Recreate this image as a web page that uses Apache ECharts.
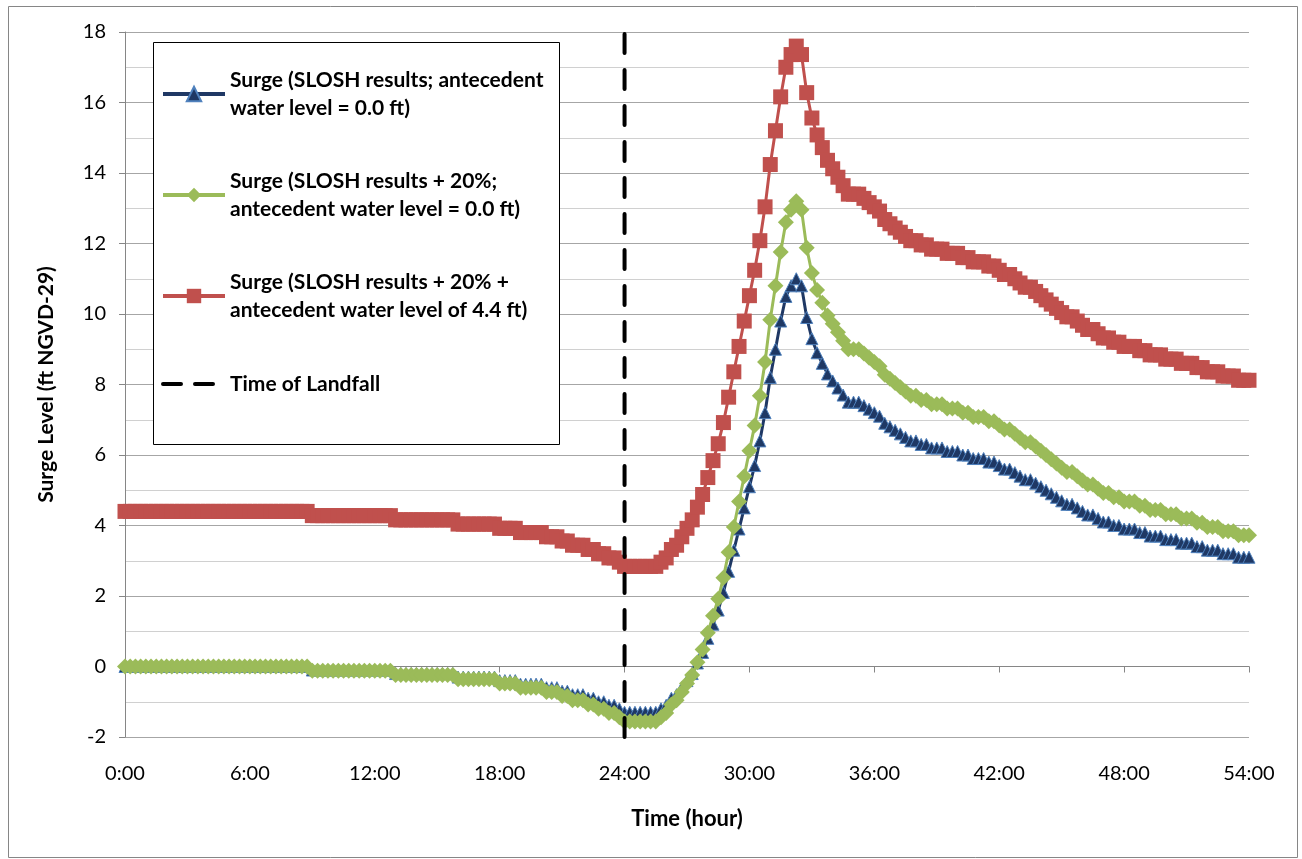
<!DOCTYPE html>
<html>
<head>
<meta charset="utf-8">
<title>Surge Level</title>
<script src="https://cdn.jsdelivr.net/npm/echarts@6/dist/echarts.min.js"></script>
<style>
  html, body { margin: 0; padding: 0; background: #fff; }
  #surgeChart { width: 1302px; height: 859px; }
</style>
</head>
<body>
<div id="surgeChart"></div>
<script>
// readings every 15 minutes, 0:00 to 54:00 (one row = 6 hours)
const stepHours = 0.25
const xTicks = [0, 6, 12, 18, 24, 30, 36, 42, 48, 54]
const yTicks = [-2, 0, 2, 4, 6, 8, 10, 12, 14, 16, 18]
const landfallHour = 24

const seriesNames = [
  'Surge (SLOSH results; antecedent\nwater level = 0.0 ft)',
  'Surge (SLOSH results + 20%;\nantecedent water level = 0.0 ft)',
  'Surge (SLOSH results + 20% +\nantecedent water level of 4.4 ft)',
  'Time of Landfall'
]

// SLOSH results
const sloshSurge = [
  0, 0, 0, 0, 0, 0, 0, 0, 0, 0, 0, 0, 0, 0, 0, 0, 0, 0, 0, 0, 0, 0, 0, 0,
  0, 0, 0, 0, 0, 0, 0, 0, 0, 0, 0, 0, -0.1, -0.1, -0.1, -0.1, -0.1, -0.1, -0.1, -0.1, -0.1, -0.1, -0.1, -0.1,
  -0.1, -0.1, -0.1, -0.1, -0.2, -0.2, -0.2, -0.2, -0.2, -0.2, -0.2, -0.2, -0.2, -0.2, -0.2, -0.2, -0.3, -0.3, -0.3, -0.3, -0.3, -0.3, -0.3, -0.3,
  -0.4, -0.4, -0.4, -0.4, -0.5, -0.5, -0.5, -0.5, -0.5, -0.6, -0.6, -0.6, -0.7, -0.7, -0.8, -0.8, -0.8, -0.9, -0.9, -1.0, -1.0, -1.1, -1.1, -1.2,
  -1.3, -1.3, -1.3, -1.3, -1.3, -1.3, -1.3, -1.2, -1.1, -0.9, -0.8, -0.6, -0.4, -0.2, 0.1, 0.4, 0.8, 1.2, 1.6, 2.1, 2.7, 3.3, 3.9, 4.5,
  5.1, 5.7, 6.4, 7.2, 8.2, 9.0, 9.8, 10.5, 10.8, 11.0, 10.8, 9.9, 9.3, 8.9, 8.6, 8.3, 8.1, 7.9, 7.7, 7.5, 7.5, 7.5, 7.4, 7.3,
  7.2, 7.1, 6.9, 6.8, 6.7, 6.6, 6.5, 6.4, 6.4, 6.3, 6.3, 6.2, 6.2, 6.2, 6.1, 6.1, 6.1, 6.0, 6.0, 5.9, 5.9, 5.9, 5.8, 5.8,
  5.7, 5.6, 5.6, 5.5, 5.4, 5.3, 5.3, 5.2, 5.1, 5.0, 4.9, 4.8, 4.7, 4.6, 4.6, 4.5, 4.4, 4.3, 4.3, 4.2, 4.1, 4.1, 4.0, 4.0,
  3.9, 3.9, 3.9, 3.8, 3.8, 3.7, 3.7, 3.7, 3.6, 3.6, 3.6, 3.5, 3.5, 3.5, 3.4, 3.4, 3.3, 3.3, 3.3, 3.2, 3.2, 3.2, 3.1, 3.1,
  3.1
]

// SLOSH results + 20%
const plus20Surge = [
  0, 0, 0, 0, 0, 0, 0, 0, 0, 0, 0, 0, 0, 0, 0, 0, 0, 0, 0, 0, 0, 0, 0, 0,
  0, 0, 0, 0, 0, 0, 0, 0, 0, 0, 0, 0, -0.12, -0.12, -0.12, -0.12, -0.12, -0.12, -0.12, -0.12, -0.12, -0.12, -0.12, -0.12,
  -0.12, -0.12, -0.12, -0.12, -0.24, -0.24, -0.24, -0.24, -0.24, -0.24, -0.24, -0.24, -0.24, -0.24, -0.24, -0.24, -0.36, -0.36, -0.36, -0.36, -0.36, -0.36, -0.36, -0.36,
  -0.48, -0.48, -0.48, -0.48, -0.6, -0.6, -0.6, -0.6, -0.6, -0.72, -0.72, -0.72, -0.84, -0.84, -0.96, -0.96, -0.96, -1.08, -1.08, -1.2, -1.2, -1.32, -1.32, -1.44,
  -1.56, -1.56, -1.56, -1.56, -1.56, -1.56, -1.56, -1.44, -1.32, -1.08, -0.96, -0.72, -0.48, -0.24, 0.12, 0.48, 0.96, 1.44, 1.92, 2.52, 3.24, 3.96, 4.68, 5.4,
  6.12, 6.84, 7.68, 8.64, 9.84, 10.8, 11.76, 12.6, 12.96, 13.2, 12.96, 11.88, 11.16, 10.68, 10.32, 9.96, 9.72, 9.48, 9.24, 9.0, 9.0, 9.0, 8.88, 8.76,
  8.64, 8.52, 8.28, 8.16, 8.04, 7.92, 7.8, 7.68, 7.68, 7.56, 7.56, 7.44, 7.44, 7.44, 7.32, 7.32, 7.32, 7.2, 7.2, 7.08, 7.08, 7.08, 6.96, 6.96,
  6.84, 6.72, 6.72, 6.6, 6.48, 6.36, 6.36, 6.24, 6.12, 6.0, 5.88, 5.76, 5.64, 5.52, 5.52, 5.4, 5.28, 5.16, 5.16, 5.04, 4.92, 4.92, 4.8, 4.8,
  4.68, 4.68, 4.68, 4.56, 4.56, 4.44, 4.44, 4.44, 4.32, 4.32, 4.32, 4.2, 4.2, 4.2, 4.08, 4.08, 3.96, 3.96, 3.96, 3.84, 3.84, 3.84, 3.72, 3.72,
  3.72
]

// SLOSH results + 20% + 4.4 ft antecedent water level
const antecedentSurge = [
  4.4, 4.4, 4.4, 4.4, 4.4, 4.4, 4.4, 4.4, 4.4, 4.4, 4.4, 4.4, 4.4, 4.4, 4.4, 4.4, 4.4, 4.4, 4.4, 4.4, 4.4, 4.4, 4.4, 4.4,
  4.4, 4.4, 4.4, 4.4, 4.4, 4.4, 4.4, 4.4, 4.4, 4.4, 4.4, 4.4, 4.28, 4.28, 4.28, 4.28, 4.28, 4.28, 4.28, 4.28, 4.28, 4.28, 4.28, 4.28,
  4.28, 4.28, 4.28, 4.28, 4.16, 4.16, 4.16, 4.16, 4.16, 4.16, 4.16, 4.16, 4.16, 4.16, 4.16, 4.16, 4.04, 4.04, 4.04, 4.04, 4.04, 4.04, 4.04, 4.04,
  3.92, 3.92, 3.92, 3.92, 3.8, 3.8, 3.8, 3.8, 3.8, 3.68, 3.68, 3.68, 3.56, 3.56, 3.44, 3.44, 3.44, 3.32, 3.32, 3.2, 3.2, 3.08, 3.08, 2.96,
  2.84, 2.84, 2.84, 2.84, 2.84, 2.84, 2.84, 2.96, 3.08, 3.32, 3.44, 3.68, 3.92, 4.16, 4.52, 4.88, 5.36, 5.84, 6.32, 6.92, 7.64, 8.36, 9.08, 9.8,
  10.52, 11.24, 12.08, 13.04, 14.24, 15.2, 16.16, 17.0, 17.36, 17.6, 17.36, 16.28, 15.56, 15.08, 14.72, 14.36, 14.12, 13.88, 13.64, 13.4, 13.4, 13.4, 13.28, 13.16,
  13.04, 12.92, 12.68, 12.56, 12.44, 12.32, 12.2, 12.08, 12.08, 11.96, 11.96, 11.84, 11.84, 11.84, 11.72, 11.72, 11.72, 11.6, 11.6, 11.48, 11.48, 11.48, 11.36, 11.36,
  11.24, 11.12, 11.12, 11.0, 10.88, 10.76, 10.76, 10.64, 10.52, 10.4, 10.28, 10.16, 10.04, 9.92, 9.92, 9.8, 9.68, 9.56, 9.56, 9.44, 9.32, 9.32, 9.2, 9.2,
  9.08, 9.08, 9.08, 8.96, 8.96, 8.84, 8.84, 8.84, 8.72, 8.72, 8.72, 8.6, 8.6, 8.6, 8.48, 8.48, 8.36, 8.36, 8.36, 8.24, 8.24, 8.24, 8.12, 8.12,
  8.12
]

const font = 'Lato, "Open Sans", sans-serif'
const toPairs = (values) => values.map((v, i) => [i * stepHours, v])

const chart = echarts.init(document.getElementById('surgeChart'))
const options = {
  animation: false,
  backgroundColor: '#fff',
  textStyle: { fontFamily: font },
  grid: {
    left: 125,
    right: 53,
    top: 32,
    bottom: 122
  },
  xAxis: {
    type: 'value',
    min: xTicks[0],
    max: xTicks[xTicks.length - 1],
    interval: 6,
    name: 'Time (hour)',
    nameLocation: 'middle',
    nameGap: 71,
    nameTextStyle: { color: '#000', fontSize: 22, fontWeight: 'bold', fontFamily: font },
    axisLine: { lineStyle: { color: '#868686', width: 1 } },
    axisTick: { show: true, length: 6, lineStyle: { color: '#868686' } },
    axisLabel: {
      color: '#000',
      fontSize: 20,
      margin: 27,
      formatter: (v) => v + ':00'
    },
    splitLine: { show: false }
  },
  yAxis: {
    type: 'value',
    min: yTicks[0],
    max: yTicks[yTicks.length - 1],
    interval: 2,
    name: 'Surge Level (ft NGVD-29)',
    nameLocation: 'middle',
    nameGap: 68,
    nameTextStyle: { color: '#000', fontSize: 21, fontWeight: 'bold', fontFamily: font },
    axisLine: { show: true, lineStyle: { color: '#868686', width: 1 } },
    axisTick: { show: true, length: 6, lineStyle: { color: '#868686' } },
    axisLabel: { color: '#000', fontSize: 20, margin: 19 },
    splitLine: { lineStyle: { color: '#a6a6a6', width: 1 } },
    minorTick: { show: false, splitNumber: 2 },
    minorSplitLine: { show: true, lineStyle: { color: '#d0d0d0', width: 1 } }
  },
  legend: {
    orient: 'vertical',
    left: 161,
    top: 52,
    padding: 0,
    itemGap: 17,
    itemWidth: 62,
    itemHeight: 18,
    z: 10,
    lineStyle: { width: 4 },
    textStyle: {
      color: '#000',
      fontSize: 21,
      fontWeight: 'bold',
      fontFamily: font,
      lineHeight: 28,
      padding: [28, 0, 0, 0]
    },
    data: [
      { name: seriesNames[0] },
      { name: seriesNames[1] },
      { name: seriesNames[2] },
      {
        name: seriesNames[3],
        itemStyle: { opacity: 0 },
        lineStyle: { color: '#000', width: 4, type: [18, 14] },
        textStyle: { padding: [15, 0, 15, 0] }
      }
    ]
  },
  graphic: [
    {
      type: 'rect',
      left: 6,
      top: 4,
      shape: { width: 1289, height: 851 },
      style: { fill: 'none', stroke: '#868686', lineWidth: 1 },
      silent: true,
      z: -10
    },
    {
      type: 'rect',
      left: 153,
      top: 42,
      shape: { width: 406, height: 402 },
      style: { fill: '#fff', stroke: '#000', lineWidth: 1 },
      silent: true,
      z: 1
    }
  ],
  series: [
    {
      name: seriesNames[0],
      type: 'line',
      data: toPairs(sloshSurge),
      showAllSymbol: true,
      symbol: 'triangle',
      symbolSize: 12,
      lineStyle: { color: '#1f3864', width: 3 },
      itemStyle: { color: '#1f3864', borderColor: '#4f81bd', borderWidth: 1 },
      z: 2
    },
    {
      name: seriesNames[1],
      type: 'line',
      data: toPairs(plus20Surge),
      showAllSymbol: true,
      symbol: 'diamond',
      symbolSize: 16,
      lineStyle: { color: '#9bbb59', width: 3 },
      itemStyle: { color: '#9bbb59' },
      z: 3
    },
    {
      name: seriesNames[2],
      type: 'line',
      data: toPairs(antecedentSurge),
      showAllSymbol: true,
      symbol: 'rect',
      symbolSize: 15,
      lineStyle: { color: '#c0504d', width: 3 },
      itemStyle: { color: '#c0504d' },
      z: 4
    },
    {
      name: seriesNames[3],
      type: 'line',
      data: [[landfallHour, yTicks[0]], [landfallHour, yTicks[yTicks.length - 1]]],
      symbol: 'none',
      lineStyle: { color: '#000', width: 4, type: [19, 17], cap: 'round' },
      itemStyle: { color: '#000' },
      z: 6
    }
  ]
}
chart.setOption(options)
</script>
</body>
</html>
